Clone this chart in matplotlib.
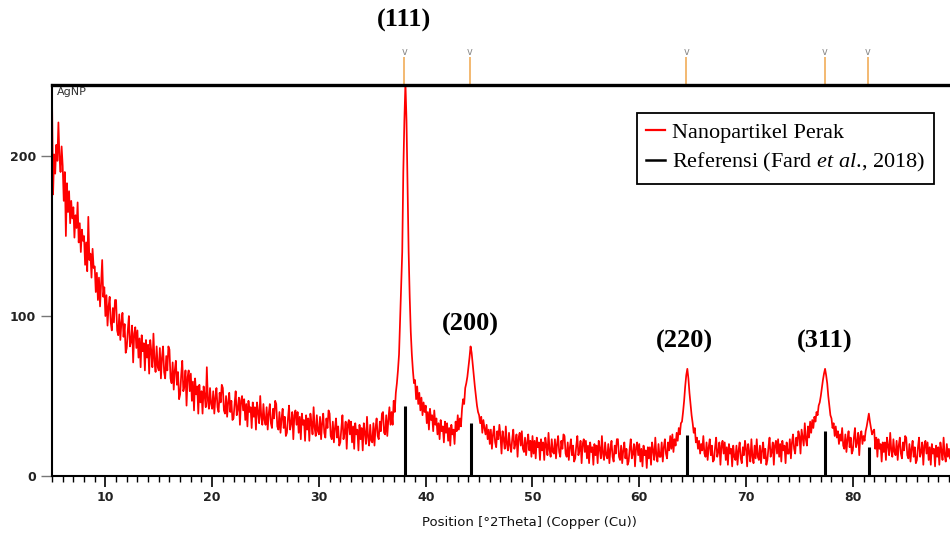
import numpy as np
import matplotlib
matplotlib.use("Agg")
import matplotlib.pyplot as plt
from matplotlib.lines import Line2D
from matplotlib.ticker import MultipleLocator
from matplotlib.transforms import blended_transform_factory

plt.rcParams["mathtext.fontset"] = "custom"
plt.rcParams["mathtext.rm"] = "Liberation Serif"
plt.rcParams["mathtext.it"] = "Liberation Serif:italic"

# Measured pattern: 2-theta from 5.0 deg in steps of 0.1 deg
two_theta_start = 5.0
two_theta_step = 0.1
intensity = [
    238, 176, 201, 189, 207, 197, 221, 199, 190, 206,   # 5
    194, 172, 190, 150, 183, 165, 178, 158, 172, 161,   # 6
    168, 149, 163, 155, 171, 146, 158, 140, 154, 147,   # 7
    150, 132, 146, 128, 162, 135, 139, 124, 142, 130,   # 8
    131, 115, 127, 110, 124, 106, 121, 135, 112, 118,   # 9
    100, 113, 94, 106, 112, 96, 91, 105, 96, 110,       # 10
    110, 91, 88, 101, 85, 96, 102, 87, 95, 77,          # 11
    80, 91, 100, 81, 84, 94, 71, 89, 93, 80,            # 12
    91, 74, 86, 68, 88, 78, 83, 66, 85, 74,             # 13
    82, 64, 85, 78, 68, 89, 72, 65, 81, 68,             # 14
    66, 80, 61, 74, 81, 65, 61, 75, 66, 81,             # 15
    79, 61, 58, 71, 54, 66, 72, 57, 65, 48,             # 16
    51, 63, 72, 53, 56, 66, 44, 62, 66, 53,             # 17
    64, 47, 59, 41, 61, 51, 56, 39, 57, 46,             # 18
    53, 39, 56, 50, 43, 68, 47, 42, 55, 45,             # 19
    42, 53, 39, 49, 55, 43, 40, 52, 46, 57,             # 20
    55, 41, 39, 50, 37, 46, 52, 40, 47, 35,             # 21
    36, 45, 53, 38, 42, 49, 32, 47, 50, 41,             # 22
    48, 35, 45, 31, 47, 40, 43, 30, 46, 37,             # 23
    43, 29, 46, 40, 33, 50, 37, 32, 45, 35,             # 24
    32, 43, 29, 39, 45, 33, 30, 42, 36, 47,             # 25
    45, 31, 29, 40, 27, 36, 42, 30, 37, 25,             # 26
    27, 36, 44, 29, 33, 40, 23, 38, 41, 32,             # 27
    40, 27, 37, 23, 39, 32, 35, 22, 38, 29,             # 28
    36, 22, 39, 33, 26, 43, 30, 25, 38, 28,             # 29
    26, 37, 23, 33, 39, 27, 24, 36, 30, 41,             # 30
    39, 25, 23, 34, 21, 30, 36, 24, 31, 19,             # 31
    21, 30, 38, 23, 27, 34, 17, 32, 35, 26,             # 32
    34, 21, 31, 17, 33, 26, 29, 16, 32, 23,             # 33
    30, 16, 33, 27, 20, 37, 24, 19, 32, 22,             # 34
    21, 33, 19, 30, 36, 25, 23, 34, 28, 39,             # 35
    40, 27, 26, 38, 25, 35, 43, 32, 40, 32,             # 36
    47, 40, 52, 58, 66, 76, 98, 118, 140, 190,          # 37
    222, 246, 222, 180, 140, 112, 90, 76, 66, 58,       # 38
    60, 48, 56, 45, 52, 41, 49, 38, 46, 40,             # 39
    44, 33, 40, 29, 42, 35, 38, 28, 41, 32,             # 40
    36, 26, 33, 23, 35, 28, 31, 21, 34, 27,             # 41
    33, 22, 30, 19, 32, 26, 29, 20, 34, 28,             # 42
    38, 29, 36, 31, 42, 48, 45, 55, 58, 62,             # 43
    68, 74, 81, 77, 70, 63, 56, 50, 44, 40,             # 44
    38, 33, 37, 27, 35, 30, 26, 32, 23, 29,             # 45
    20, 29, 17, 26, 31, 21, 18, 28, 23, 32,             # 46
    25, 14, 28, 23, 17, 31, 20, 16, 27, 19,             # 47
    15, 23, 29, 17, 20, 26, 12, 24, 27, 19,             # 48
    28, 17, 15, 24, 13, 21, 26, 16, 22, 12,             # 49
    25, 14, 22, 11, 24, 18, 21, 10, 23, 16,             # 50
    21, 10, 24, 19, 13, 27, 16, 12, 23, 15,             # 51
    14, 23, 11, 20, 25, 15, 12, 22, 17, 26,             # 52
    25, 14, 12, 21, 10, 18, 23, 13, 19, 9,              # 53
    11, 19, 25, 13, 16, 22, 8, 20, 23, 15,              # 54
    22, 11, 19, 8, 21, 15, 18, 7, 20, 13,               # 55
    19, 8, 22, 17, 11, 25, 14, 10, 21, 13,              # 56
    11, 20, 8, 17, 22, 12, 9, 19, 14, 23,               # 57
    23, 12, 10, 19, 8, 16, 21, 11, 17, 7,               # 58
    9, 17, 23, 11, 14, 20, 6, 18, 21, 13,               # 59
    20, 9, 17, 6, 19, 13, 16, 5, 18, 11,                # 60
    18, 7, 21, 16, 10, 24, 13, 9, 20, 12,               # 61
    12, 21, 9, 18, 23, 14, 11, 21, 16, 25,              # 62
    17, 26, 15, 23, 19, 27, 22, 30, 26, 33,             # 63
    34, 40, 47, 56, 63, 67, 61, 52, 45, 38,             # 64
    33, 27, 30, 21, 24, 17, 22, 14, 20, 16,             # 65
    25, 14, 12, 21, 10, 18, 23, 13, 19, 9,              # 66
    10, 18, 24, 12, 15, 21, 7, 19, 22, 14,              # 67
    21, 10, 18, 7, 20, 14, 17, 6, 19, 12,               # 68
    10, 19, 7, 16, 21, 11, 8, 18, 13, 22,               # 69
    17, 6, 20, 15, 9, 23, 12, 8, 19, 11,                # 70
    23, 12, 10, 19, 8, 16, 21, 11, 17, 7,               # 71
    10, 18, 24, 12, 15, 21, 7, 19, 22, 14,              # 72
    23, 12, 20, 9, 22, 16, 19, 8, 21, 14,               # 73
    14, 23, 11, 21, 26, 17, 14, 24, 19, 28,             # 74
    25, 14, 29, 24, 19, 33, 23, 19, 31, 24,             # 75
    34, 27, 35, 30, 37, 34, 40, 38, 44, 46,             # 76
    50, 55, 60, 64, 67, 63, 58, 50, 44, 38,             # 77
    36, 30, 33, 25, 31, 24, 28, 20, 26, 22,             # 78
    30, 19, 17, 26, 15, 23, 28, 18, 24, 14,             # 79
    16, 24, 30, 18, 21, 27, 13, 25, 28, 20,             # 80
    25, 22, 28, 31, 35, 39, 34, 30, 26, 28,             # 81
    29, 17, 24, 12, 23, 17, 20, 9, 21, 15,              # 82
    21, 10, 24, 19, 13, 27, 16, 12, 23, 15,             # 83
    13, 22, 10, 19, 24, 14, 11, 21, 16, 25,             # 84
    24, 13, 11, 20, 9, 17, 22, 12, 18, 8,               # 85
    10, 18, 24, 12, 15, 21, 7, 19, 22, 14,              # 86
    21, 10, 18, 7, 20, 14, 17, 6, 19, 12,               # 87
    18, 7, 21, 16, 10, 24, 13, 9, 20, 12,               # 88
    17, 11,                                             # 89
]

# Reference pattern (Fard et al., 2018): stick positions and heights
ref_pos = [38.1, 44.2, 64.5, 77.4, 81.5]
ref_int = [44, 33, 25.5, 28, 18]

# Pattern-list markers above the plot frame
marker_pos = [38.0, 44.1, 64.4, 77.4, 81.4]

# Miller indices labels
hkl_labels = ["(111)", "(200)", "(220)", "(311)"]
hkl_x = [38.0, 44.2, 64.2, 77.4]
hkl_y = [285, 95, 84, 84]

x_ticks = [10, 20, 30, 40, 50, 60, 70, 80]
y_ticks = [0, 100, 200]

two_theta = two_theta_start + two_theta_step * np.arange(len(intensity))

fig = plt.figure(figsize=(9.5, 5.33), dpi=100)
ax = fig.add_axes([52 / 950, 57 / 533, 898 / 950, 391 / 533])

ax.plot(two_theta, intensity, color="#ff0000", lw=1.25, zorder=2)
ax.vlines(ref_pos, 0, ref_int, color="black", lw=2.2, zorder=3)

ax.set_xlim(5.0, 89.1)
ax.set_ylim(0, 244.4)

ax.spines["top"].set_linewidth(2.4)
ax.spines["left"].set_linewidth(1.5)
ax.spines["bottom"].set_linewidth(1.5)
ax.spines["right"].set_visible(False)

ax.set_xticks(x_ticks)
ax.xaxis.set_minor_locator(MultipleLocator(1))
ax.set_yticks(y_ticks)
ax.tick_params(axis="x", which="major", direction="out", length=8, width=1.2,
               color="black", labelsize=9, pad=2.5, labelcolor="#222222")
ax.tick_params(axis="x", which="minor", direction="out", length=4, width=1.0,
               color="black")
ax.tick_params(axis="y", which="major", direction="out", length=8, width=1.0,
               color="#777777", labelsize=9, pad=3.5, labelcolor="#222222")
for lbl in ax.get_xticklabels() + ax.get_yticklabels():
    lbl.set_fontweight("bold")

ax.set_xlabel("Position [°2Theta] (Copper (Cu))", fontsize=9.5, color="#111111")
ax.xaxis.set_label_coords(0.532, -0.118)
ax.xaxis.label.set_va("center")

ax.text(0.006, 0.994, "AgNP", transform=ax.transAxes, ha="left", va="top",
        fontsize=8, color="#333333")

# Markers above the frame
trans = blended_transform_factory(ax.transData, ax.transAxes)
ax.vlines(marker_pos, 1.0, 1.0716, transform=trans, color="#f0a64a", lw=1.1,
          clip_on=False, zorder=1)
for p in marker_pos:
    ax.text(p, 1.0844, "v", transform=trans, ha="center", va="center",
            fontsize=7, color="#888888", clip_on=False)

for lab, hx, hy in zip(hkl_labels, hkl_x, hkl_y):
    ax.text(hx, hy, lab, ha="center", va="center", fontsize=19,
            fontweight="bold", family="Liberation Serif", color="black",
            clip_on=False)

handles = [Line2D([], [], color="#ff0000", lw=1.6),
           Line2D([], [], color="black", lw=1.8)]
labels = ["Nanopartikel Perak", r"Referensi (Fard $\mathit{et}$ $\mathit{al}$., 2018)"]
leg = ax.legend(handles, labels, loc="upper left",
                bbox_to_anchor=(637 / 950, 1 - 113 / 533),
                bbox_transform=fig.transFigure,
                prop={"family": "Liberation Serif", "size": 16},
                frameon=True, fancybox=False, edgecolor="black", framealpha=1,
                borderpad=0.42, handlelength=0.85, handletextpad=0.3,
                labelspacing=0.38, borderaxespad=0)
leg.get_frame().set_linewidth(1.3)

fig.savefig("out.png", dpi=100)
